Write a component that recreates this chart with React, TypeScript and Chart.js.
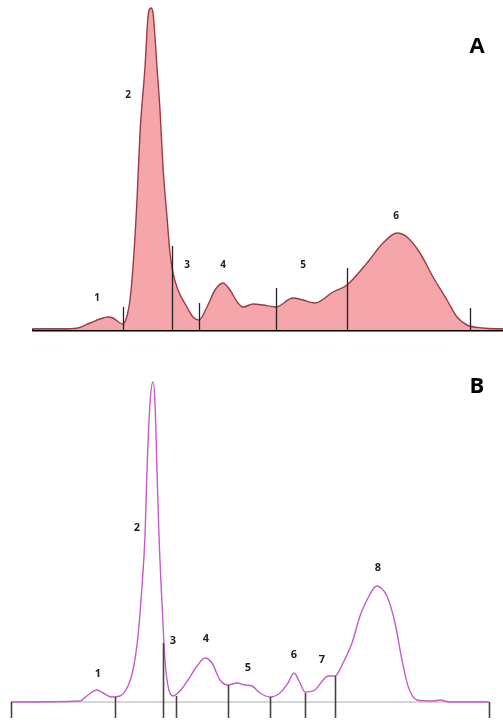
import React, { useEffect, useRef } from "react";
import { Chart, registerables } from "chart.js";

Chart.register(...registerables);

// ---------- Panel A (densitometry profile, filled) ----------
const profileAx = [33, 60, 78, 90, 100, 108, 113, 120, 123, 127, 130, 133, 137, 140, 145, 148, 151, 153, 157, 160, 163, 167, 170, 173, 178, 187, 193, 199, 207, 215, 223, 230, 238, 243, 253, 263, 276, 293, 303, 315, 333, 347, 367, 383, 397, 407, 420, 433, 447, 457, 467, 483, 503];
const profileAy = [1, 1, 2, 7, 11, 13, 12, 7, 6, 14, 30, 63, 130, 197, 263, 313, 322, 317, 263, 220, 163, 113, 77, 57, 40, 23, 13, 10, 23, 40, 47, 40, 27, 23, 26, 25, 23, 32, 30, 27, 38, 45, 67, 87, 97, 93, 77, 53, 30, 13, 5, 2, 1];
const sepAx = [123, 172, 199, 276, 347, 470];
const sepAtop = [23, 84, 27, 42, 62, 22];
const labelsA = ["1", "2", "3", "4", "5", "6"];
const labelAx = [97, 128, 187, 223, 303, 396];
const labelAy = [32, 235, 65, 65, 65, 114];

// ---------- Panel B (densitometry profile, line) ----------
const profileBx = [11, 80, 88, 97, 103, 112, 120, 128, 133, 138, 142, 145, 147, 150, 153, 155, 157, 159, 162, 165, 168, 173, 180, 188, 197, 205, 212, 220, 228, 237, 245, 252, 260, 270, 280, 288, 294, 300, 305, 315, 323, 328, 335, 343, 352, 360, 368, 374, 377, 381, 387, 395, 402, 408, 417, 433, 440, 450, 489];
const profileBy = [0, 1, 7, 12, 9, 5, 6, 16, 32, 66, 116, 166, 232, 299, 320, 299, 232, 166, 99, 42, 16, 6, 11, 22, 36, 44, 39, 22, 17, 19, 17, 16, 9, 5, 9, 19, 29, 19, 10, 12, 22, 26, 26, 39, 59, 86, 104, 114, 116, 114, 106, 79, 42, 16, 2, 1, 2, 0, 0];
const sepBx = [11, 115, 163, 176, 228, 270, 305, 335, 489];
const sepBtop = [0, 5, 59, 6, 17, 5, 9, 26, 0];
const labelsB = ["1", "2", "3", "4", "5", "6", "7", "8"];
const labelBx = [98, 137, 173, 206, 248, 294, 322, 378];
const labelBy = [28, 174, 61, 63, 34, 47, 42, 134];

type Panel = {
  xs: number[];
  ys: number[];
  sepX: number[];
  sepTop: number[];
  sepBottom: number;
  labels: string[];
  lx: number[];
  ly: number[];
  labelFont: string;
  letter: string;
  letterX: number;
  letterY: number;
  baseFrom: number;
  baseTo: number;
  baseColor: string;
  baseWidth: number;
  line: string;
  fill: string | false;
  yMin: number;
  yMax: number;
};

function makeChart(canvas: HTMLCanvasElement, p: Panel) {
  const overlay = {
    id: "overlay",
    beforeDatasetsDraw(chart: any) {
      const { ctx, scales } = chart;
      const x = scales.x;
      const y = scales.y;
      ctx.save();
      ctx.strokeStyle = p.baseColor;
      ctx.lineWidth = p.baseWidth;
      ctx.beginPath();
      ctx.moveTo(x.getPixelForValue(p.baseFrom), y.getPixelForValue(0));
      ctx.lineTo(x.getPixelForValue(p.baseTo), y.getPixelForValue(0));
      ctx.stroke();
      ctx.restore();
    },
    afterDatasetsDraw(chart: any) {
      const { ctx, scales } = chart;
      const x = scales.x;
      const y = scales.y;
      ctx.save();
      ctx.strokeStyle = p.fill ? "#222" : "#444";
      ctx.lineWidth = p.fill ? 1.3 : 1.6;
      p.sepX.forEach((sx, i) => {
        const px = Math.round(x.getPixelForValue(sx)) + 0.5;
        ctx.beginPath();
        ctx.moveTo(px, y.getPixelForValue(p.sepTop[i]));
        ctx.lineTo(px, y.getPixelForValue(p.sepBottom));
        ctx.stroke();
      });
      ctx.fillStyle = "#222";
      ctx.font = p.labelFont;
      ctx.textAlign = "center";
      ctx.textBaseline = "middle";
      p.labels.forEach((t, i) => {
        ctx.fillText(t, x.getPixelForValue(p.lx[i]), y.getPixelForValue(p.ly[i]));
      });
      ctx.fillStyle = "#000";
      ctx.font = "bold 22px 'Open Sans', sans-serif";
      ctx.fillText(p.letter, x.getPixelForValue(p.letterX), y.getPixelForValue(p.letterY));
      ctx.restore();
    },
  };
  return new Chart(canvas, {
    type: "line",
    data: {
      datasets: [
        {
          data: p.xs.map((v, i) => ({ x: v, y: p.ys[i] })),
          borderColor: p.line,
          borderWidth: 1.4,
          backgroundColor: p.fill || "transparent",
          fill: p.fill ? "origin" : false,
          pointRadius: 0,
          cubicInterpolationMode: "monotone",
        },
      ],
    },
    options: {
      animation: false,
      responsive: false,
      maintainAspectRatio: false,
      layout: { padding: 0 },
      plugins: { legend: { display: false }, tooltip: { enabled: false } },
      scales: {
        x: { type: "linear", min: 0, max: 503, display: false },
        y: { type: "linear", min: p.yMin, max: p.yMax, display: false },
      },
    },
    plugins: [overlay],
  });
}

export default function App() {
  const refA = useRef<HTMLCanvasElement>(null);
  const refB = useRef<HTMLCanvasElement>(null);
  useEffect(() => {
    const a = makeChart(refA.current!, {
      xs: profileAx,
      ys: profileAy,
      sepX: sepAx,
      sepTop: sepAtop,
      sepBottom: 0,
      labels: labelsA,
      lx: labelAx,
      ly: labelAy,
      labelFont: "bold 10px 'Open Sans', sans-serif",
      letter: "A",
      letterX: 477,
      letterY: 283,
      baseFrom: 32,
      baseTo: 503,
      baseColor: "#000",
      baseWidth: 3,
      line: "#9b3b45",
      fill: "#f4a6ab",
      yMin: -20,
      yMax: 330,
    });
    const b = makeChart(refB.current!, {
      xs: profileBx,
      ys: profileBy,
      sepX: sepBx,
      sepTop: sepBtop,
      sepBottom: -16,
      labels: labelsB,
      lx: labelBx,
      ly: labelBy,
      labelFont: "bold 11px 'Open Sans', sans-serif",
      letter: "B",
      letterX: 477,
      letterY: 315,
      baseFrom: 11,
      baseTo: 489,
      baseColor: "#c8c8c8",
      baseWidth: 1.5,
      line: "#c45cc8",
      fill: false,
      yMin: -20,
      yMax: 332,
    });
    return () => {
      a.destroy();
      b.destroy();
    };
  }, []);
  return (
    <div style={{ position: "fixed", left: 0, top: 0, width: 503, height: 722, background: "#fff" }}>
      <canvas ref={refA} width={503} height={350} style={{ position: "absolute", left: 0, top: 0 }} />
      <canvas ref={refB} width={503} height={352} style={{ position: "absolute", left: 0, top: 370 }} />
    </div>
  );
}
